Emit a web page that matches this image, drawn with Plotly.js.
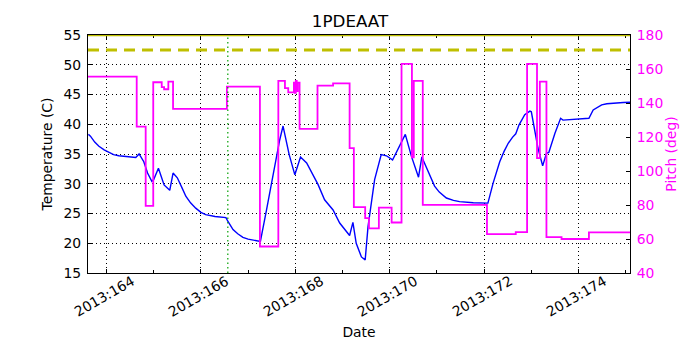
<!DOCTYPE html>
<html>
<head>
<meta charset="utf-8">
<script src="https://cdn.plot.ly/plotly-3.0.1.min.js"></script>
<style>html,body{margin:0;padding:0;background:#fff;}#chart{width:700px;height:350px;}</style>
</head>
<body>
<div id="chart"></div>
<script>
// Temperature (C), day-of-year 2013
const tempDays = [163.617, 163.66, 163.75, 163.84, 163.95, 164.05, 164.15, 164.26, 164.45, 164.62, 164.69, 164.79, 164.87, 164.96, 165.00, 165.10, 165.22, 165.34, 165.41, 165.50, 165.60, 165.68, 165.78, 165.89, 166.00, 166.10, 166.30, 166.53, 166.57, 166.62, 166.68, 166.78, 166.89, 167.00, 167.10, 167.26, 167.39, 167.53, 167.67, 167.74, 167.87, 167.99, 168.11, 168.24, 168.41, 168.48, 168.62, 168.80, 168.94, 169.15, 169.22, 169.29, 169.40, 169.48, 169.54, 169.68, 169.82, 169.93, 170.06, 170.21, 170.33, 170.46, 170.61, 170.68, 170.81, 170.95, 171.05, 171.20, 171.35, 171.48, 171.77, 172.08, 172.19, 172.26, 172.33, 172.42, 172.51, 172.60, 172.67, 172.74, 172.86, 172.97, 173.00, 173.14, 173.24, 173.32, 173.37, 173.50, 173.62, 173.67, 173.92, 174.22, 174.31, 174.40, 174.49, 174.60, 174.77, 174.95, 175.09];
const tempVals = [38.3, 38.0, 37.0, 36.3, 35.7, 35.25, 34.9, 34.7, 34.5, 34.4, 35.0, 33.7, 31.8, 30.4, 30.7, 32.6, 29.8, 28.9, 31.8, 31.0, 29.3, 27.9, 26.8, 25.9, 25.2, 24.8, 24.5, 24.3, 23.7, 23.0, 22.3, 21.6, 21.0, 20.7, 20.5, 20.3, 25.6, 31.8, 37.4, 39.7, 34.9, 31.5, 34.5, 33.5, 31.0, 29.9, 27.3, 25.6, 23.4, 21.3, 23.5, 20.0, 17.7, 17.2, 22.8, 30.7, 34.9, 34.7, 34.0, 36.3, 38.3, 34.6, 31.1, 34.5, 32.0, 29.6, 28.6, 27.6, 27.2, 27.0, 26.8, 26.75, 30.1, 32.0, 33.7, 35.4, 36.8, 37.8, 38.4, 39.9, 41.6, 42.2, 42.1, 36.0, 33.0, 35.1, 35.25, 38.5, 41.0, 40.7, 40.85, 41.0, 42.4, 42.9, 43.25, 43.45, 43.6, 43.65, 43.7];

// Pitch (deg), step changes (value holds from each day until the next)
const pitchDays = [163.608, 164.64, 164.83, 164.99, 165.17, 165.22, 165.31, 165.41, 166.55, 167.25, 167.64, 167.78, 167.85, 167.97, 167.99, 168.01, 168.03, 168.05, 168.09, 168.47, 168.80, 169.15, 169.24, 169.48, 169.56, 169.77, 170.04, 170.25, 170.47, 170.51, 170.70, 172.06, 172.67, 172.91, 173.12, 173.18, 173.32, 173.64, 174.22, 175.09];
const pitchVals = [155.5, 126.1, 79.5, 152.2, 149.3, 148.1, 152.6, 136.5, 149.6, 55.6, 153, 148.7, 146.3, 152, 146, 153, 147, 152, 124.8, 150.2, 151.6, 113.4, 78.8, 72.3, 66.2, 78.5, 69.7, 163, 108.1, 153, 80.1, 62.9, 64.1, 163, 107.6, 152.6, 61.1, 60, 63.9, 63.9];

// Limits / markers
const planningLimit = 52.5;
const cautionLimit = 55;
const markerDay = 166.57;

// Axis ticks
const xTickVals = [164, 166, 168, 170, 172, 174];
const xTickText = ["2013:164", "2013:166", "2013:168", "2013:170", "2013:172", "2013:174"];
const xRange = [163.608, 175.09];

const font = {family: "DejaVu Sans, sans-serif", size: 13.9, color: "#000"};
const magentaFont = {family: "DejaVu Sans, sans-serif", size: 13.9, color: "#ff00ff"};

const traces = [
  {x: tempDays, y: tempVals, type: "scatter", mode: "lines", name: "Temperature",
   line: {color: "#0000ff", width: 1.4}, yaxis: "y", hoverinfo: "skip"},
  {x: pitchDays, y: pitchVals, type: "scatter", mode: "lines", name: "Pitch",
   line: {color: "#ff00ff", width: 1.8, shape: "hv"}, yaxis: "y2", hoverinfo: "skip"}
];

const annotations = xTickVals.map((v, i) => ({
  x: v, xref: "x", y: 0, yref: "paper", yshift: -23, xshift: -2,
  text: xTickText[i], showarrow: false, textangle: -30,
  xanchor: "center", yanchor: "middle", font: font
}));

const layout = {
  width: 700, height: 350,
  margin: {l: 88, r: 70, t: 35, b: 77, pad: 0},
  paper_bgcolor: "#fff", plot_bgcolor: "#fff",
  showlegend: false,
  font: font,
  title: {text: "1PDEAAT", font: {family: "DejaVu Sans, sans-serif", size: 16.7, color: "#000"},
          x: 0.5, xanchor: "center", y: 1, yref: "container", yanchor: "top", pad: {t: 15}},
  xaxis: {
    range: xRange, showticklabels: false,
    tickvals: xTickVals, ticks: "inside", ticklen: 4, tickcolor: "#000", tickwidth: 1,
    minor: {dtick: 1, tick0: 163, ticks: "inside", ticklen: 3, tickcolor: "#000", showgrid: false},
    showgrid: true, gridcolor: "#000", griddash: "1px,3px", gridwidth: 1,
    showline: true, linecolor: "#000", linewidth: 1, mirror: "ticks", zeroline: false,
    title: {text: "Date", font: font, standoff: 54}
  },
  yaxis: {
    range: [15, 55], tickvals: [15, 20, 25, 30, 35, 40, 45, 50, 55],
    ticks: "inside", ticklen: 4, tickcolor: "#000",
    showgrid: true, gridcolor: "#000", griddash: "1px,3px", gridwidth: 1,
    showline: true, linecolor: "#000", linewidth: 1, zeroline: false,
    ticklabelstandoff: 3,
    tickfont: font,
    title: {text: "Temperature (C)", font: font, standoff: 7}
  },
  yaxis2: {
    range: [40, 180], tickvals: [40, 60, 80, 100, 120, 140, 160, 180],
    overlaying: "y", side: "right", anchor: "x",
    ticks: "inside", ticklen: 4, tickcolor: "#000",
    showgrid: false, showline: true, linecolor: "#000", linewidth: 1, zeroline: false,
    ticklabelstandoff: 3,
    tickfont: magentaFont,
    title: {text: "Pitch (deg)", font: magentaFont, standoff: 2}
  },
  shapes: [
    {type: "line", xref: "paper", x0: 0, x1: 1, yref: "y", y0: cautionLimit, y1: cautionLimit,
     line: {color: "#bfbf00", width: 2.5}},
    {type: "line", xref: "paper", x0: 0, x1: 1, yref: "y", y0: planningLimit, y1: planningLimit,
     line: {color: "#bfbf00", width: 3, dash: "11px,7px"}},
    {type: "line", xref: "x", x0: markerDay, x1: markerDay, yref: "paper", y0: 0, y1: 1,
     line: {color: "#00a000", width: 1.2, dash: "1.5px,3px"}}
  ],
  annotations: annotations
};

Plotly.newPlot("chart", traces, layout, {staticPlot: true, displayModeBar: false});
</script>
</body>
</html>
